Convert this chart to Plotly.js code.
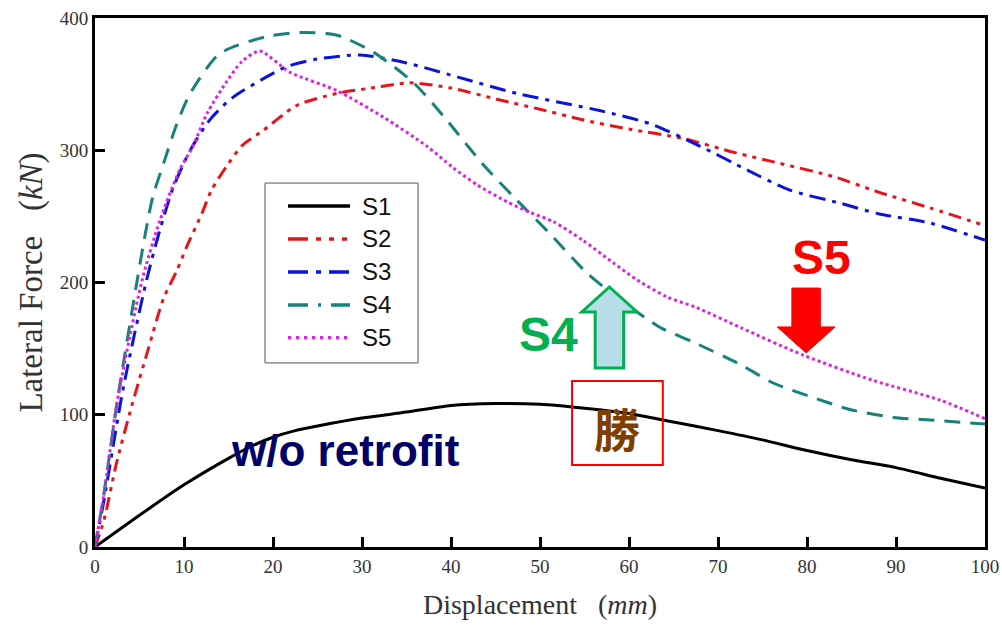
<!DOCTYPE html>
<html>
<head>
<meta charset="utf-8">
<script src="https://cdn.plot.ly/plotly-3.0.1.min.js"></script>
<style>html,body{margin:0;padding:0;background:#fff;}#chart{width:1002px;height:628px;}</style>
</head>
<body>
<div id="chart"></div>
<script>
// ---- data ----
const seriesNames = ["S1", "S2", "S3", "S4", "S5"];

const s1X = [0, 5, 10, 15, 17.5, 20, 22.5, 25, 30, 35, 40, 45, 50, 55, 60, 65, 70, 75, 80, 85, 90, 95, 100];
const s1Y = [0, 24, 47, 67, 76, 83, 88, 91.5, 97.5, 102, 107, 108.5, 108, 105, 101, 94.5, 88, 81, 73, 66, 60, 52, 44.6];

const s2X = [0, 1, 2.4, 4.1, 6, 7.7, 9.2, 10.3, 12, 13.1, 15, 16.6, 18.9, 22.7, 27.2, 31, 35.4, 40, 45.5, 50, 54.8, 60, 66, 72, 77, 83, 88.2, 94, 100];
const s2Y = [0, 20, 63, 106, 150, 188, 209, 227, 252, 270, 290, 304, 315, 334, 343, 347, 351, 347, 338, 331, 323, 316, 309, 298, 290, 280, 268, 256, 243];

const s3X = [0, 1, 3.2, 5.8, 7.3, 8.8, 10.7, 12.9, 15.5, 21.5, 25, 29.8, 35, 39.9, 47.4, 56.7, 62.4, 68, 73.3, 78, 83.7, 88, 93.8, 100];
const s3Y = [0, 35, 121, 202, 240, 272, 300, 323, 340, 363, 369, 372, 366, 357, 343, 330, 320, 303, 285, 270, 260, 252, 245, 232];

const s4X = [0, 1, 2.5, 4.7, 5.6, 6.5, 7.7, 9.2, 10.7, 14, 19.3, 23, 27.2, 31.3, 35.8, 39.5, 43.5, 47, 51.1, 55.3, 59, 63.5, 67.2, 72.5, 76.2, 80.7, 84.8, 89.7, 93.8, 100];
const s4Y = [0, 40, 110, 200, 235, 265, 290, 320, 343, 373, 386, 389, 387, 374, 351, 323, 290, 265, 237, 207, 187, 166, 155, 138, 124, 113, 104, 98, 96, 93];

const s5X = [0, 1, 2.5, 5.3, 7.3, 9.5, 11, 12.6, 14.7, 16.5, 18.5, 21.9, 27.2, 32.4, 37.3, 40.2, 42.9, 46.3, 48.9, 51.5, 54.8, 58.2, 60.9, 64.3, 67.6, 72.5, 79.6, 87.4, 95, 100];
const s5Y = [0, 40, 110, 202, 247, 285, 303, 328, 351, 367, 375, 359, 345, 325, 303, 287, 274, 261, 253, 246, 232, 215, 202, 189, 181, 166, 145, 126, 111, 97];

const xTicks = [0, 10, 20, 30, 40, 50, 60, 70, 80, 90, 100];
const yTicks = [0, 100, 200, 300, 400];

// annotation anchors (data units)
const labelRetrofit = {x: 28.2, y: 72.6, text: "w/o retrofit"};
const labelS4 = {x: 50.9, y: 161, text: "S4"};
const labelS5 = {x: 81.6, y: 219, text: "S5"};
const labelKanji = {x: 58.7, y: 90.5, text: "勝"};

// ---- styles ----
const styles = [
  {color: "#000000", dash: "solid", width: 3},
  {color: "#e8141b", dash: "13px,6px,4px,6px,4px,6px", width: 3},
  {color: "#0a14d8", dash: "16px,7px,4px,7px", width: 3},
  {color: "#17817a", dash: "16px,10px", width: 3},
  {color: "#e020e0", dash: "dot", width: 3}
];
const legendDash = ["solid", "20px,8px,5px,8px,5px,8px,5px,8px", "20px,8px,5px,8px,20px", "20px,10px,3px,10px,20px", "3px,5px"];
const xs = [s1X, s2X, s3X, s4X, s5X];
const ys = [s1Y, s2Y, s3Y, s4Y, s5Y];

const traces = seriesNames.map((n, i) => ({
  type: "scatter", mode: "lines", name: n, showlegend: false,
  x: xs[i], y: ys[i],
  line: {color: styles[i].color, dash: styles[i].dash, width: styles[i].width, shape: "spline", smoothing: 0.7}
}));

function upArrowPath(cx, tipY, headBaseY, bottomY, headHalf, shaftHalf) {
  return `M ${cx} ${tipY} L ${cx + headHalf} ${headBaseY} L ${cx + shaftHalf} ${headBaseY} L ${cx + shaftHalf} ${bottomY} L ${cx - shaftHalf} ${bottomY} L ${cx - shaftHalf} ${headBaseY} L ${cx - headHalf} ${headBaseY} Z`;
}

const shapes = [
  {type: "path", xref: "x", yref: "y",
   path: upArrowPath(57.8, 196.6, 177.7, 135.3, 3.1, 1.6),
   line: {color: "#00b050", width: 3}, fillcolor: "#b7dee8"},
  {type: "path", xref: "x", yref: "y",
   path: upArrowPath(79.9, 146.7, 166.4, 195.8, 3.25, 1.6),
   line: {color: "#ff0000", width: 1}, fillcolor: "#ff0000"},
  {type: "rect", xref: "x", yref: "y", x0: 53.6, x1: 63.8, y0: 62, y1: 125.5,
   line: {color: "#ff0000", width: 2}, fillcolor: "rgba(0,0,0,0)"}
];

const annotations = [
  {x: labelRetrofit.x, y: labelRetrofit.y, text: labelRetrofit.text, showarrow: false,
   font: {family: "Liberation Sans, Arial, sans-serif", size: 44, color: "#000066", weight: "bold"}},
  {x: labelS4.x, y: labelS4.y, text: labelS4.text, showarrow: false,
   font: {family: "Liberation Sans, Arial, sans-serif", size: 48, color: "#00b050", weight: "bold"}},
  {x: labelS5.x, y: labelS5.y, text: labelS5.text, showarrow: false,
   font: {family: "Liberation Sans, Arial, sans-serif", size: 48, color: "#ff0000", weight: "bold"}},
  {x: labelKanji.x, y: labelKanji.y, text: labelKanji.text, showarrow: false,
   font: {family: "Noto Sans CJK TC, Noto Sans CJK SC, sans-serif", size: 46, color: "#7f3f00", weight: "bold"}}
];

// ---- legend (drawn in paper coordinates) ----
const legBox = {x0: 0.191, x1: 0.363, y0: 0.348, y1: 0.688};
const legRowTop = 0.6446, legRowStep = 0.0623;
const legLineX0 = 0.2169, legLineX1 = 0.2865, legTextX = 0.2978;
shapes.push({type: "rect", xref: "paper", yref: "paper", x0: legBox.x0, x1: legBox.x1, y0: legBox.y0, y1: legBox.y1,
  line: {color: "#555555", width: 1}, fillcolor: "#ffffff", layer: "above"});
seriesNames.forEach((n, i) => {
  const yy = legRowTop - i * legRowStep;
  shapes.push({type: "line", xref: "paper", yref: "paper", x0: legLineX0, x1: legLineX1, y0: yy, y1: yy,
    line: {color: styles[i].color, width: 3.5, dash: legendDash[i]}, layer: "above"});
  annotations.push({xref: "paper", yref: "paper", x: legTextX, y: yy, xanchor: "left", yanchor: "middle",
    text: n, showarrow: false, font: {family: "Liberation Sans, Arial, sans-serif", size: 24, color: "#111"}});
});

const serif = "Liberation Serif, Times New Roman, serif";

const layout = {
  width: 1002, height: 628,
  margin: {l: 95, r: 17, t: 18, b: 81, pad: 0},
  paper_bgcolor: "#ffffff", plot_bgcolor: "#ffffff",
  showlegend: false,
  xaxis: {
    range: [0, 100], tickvals: xTicks, ticktext: xTicks.map(String),
    ticks: "inside", ticklen: 10, tickwidth: 3, tickcolor: "#000",
    showline: true, linewidth: 3, linecolor: "#000", mirror: true,
    showgrid: false, zeroline: false,
    tickfont: {family: serif, size: 19, color: "#333"},
    title: {text: "Displacement&nbsp;&nbsp;&nbsp;(<i>mm</i>)", font: {family: serif, size: 28, color: "#333"}, standoff: 19}
  },
  yaxis: {
    range: [0, 400], tickvals: yTicks, ticktext: yTicks.map(String),
    ticks: "inside", ticklen: 10, tickwidth: 3, tickcolor: "#000",
    showline: true, linewidth: 3, linecolor: "#000", mirror: true,
    showgrid: false, zeroline: false,
    tickfont: {family: serif, size: 19, color: "#333"},
    title: {text: "Lateral Force&nbsp;&nbsp;&nbsp;(<i>kN</i>)", font: {family: serif, size: 33, color: "#333"}, standoff: 8}
  },
  shapes: shapes,
  annotations: annotations
};

Plotly.newPlot("chart", traces, layout, {displayModeBar: false, staticPlot: true});
</script>
</body>
</html>
